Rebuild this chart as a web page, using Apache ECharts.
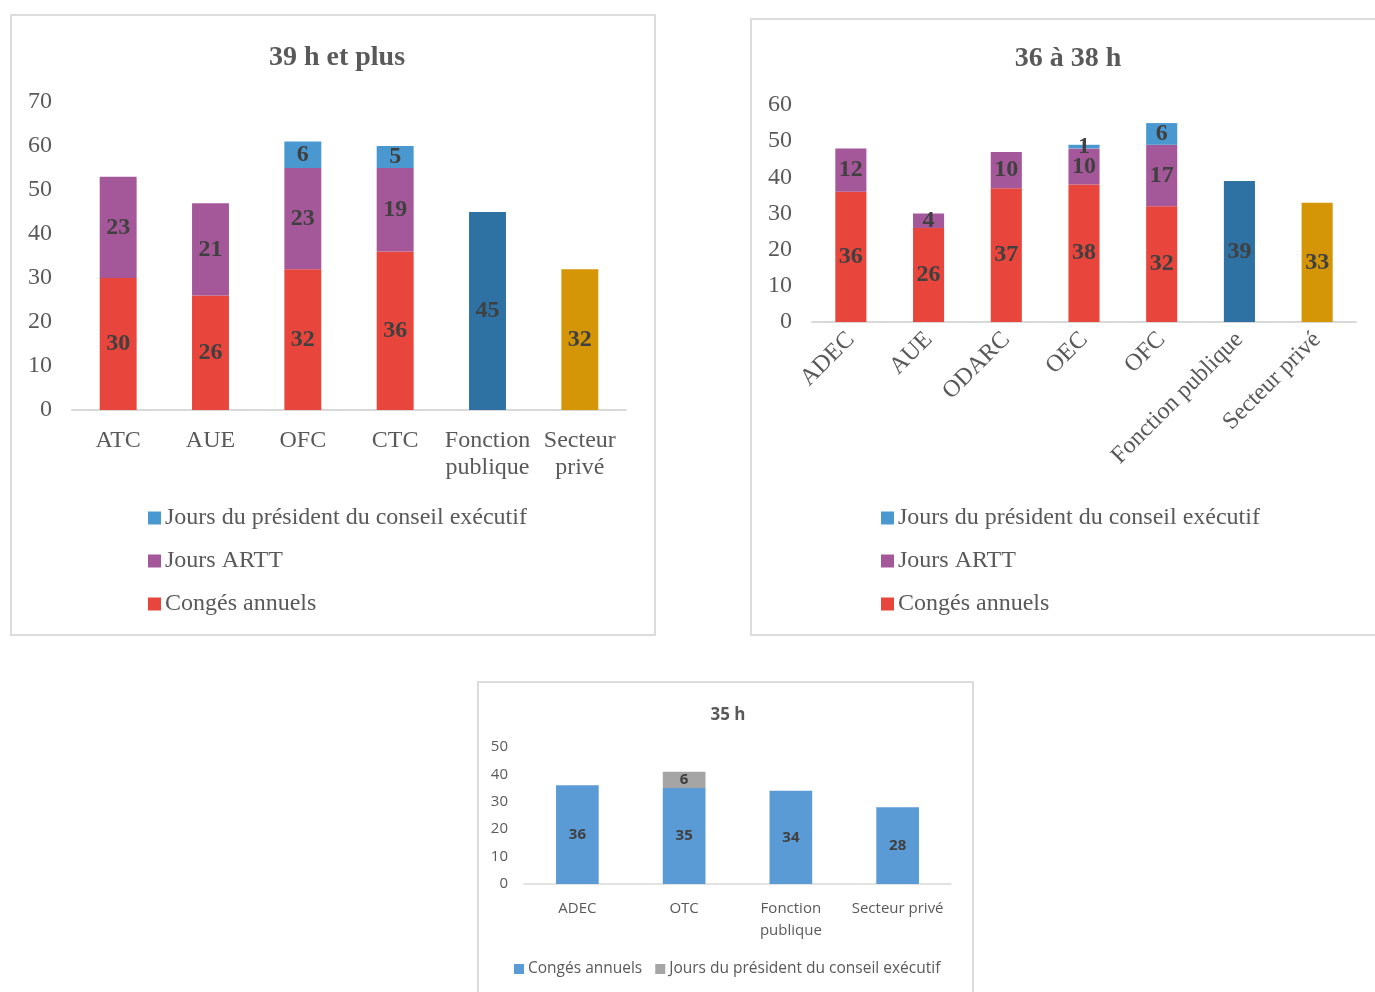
<!DOCTYPE html>
<html>
<head>
<meta charset="utf-8">
<script src="https://cdn.jsdelivr.net/npm/echarts@6/dist/echarts.min.js"></script>
<style>
body { margin: 0; background: #fff; width: 1375px; height: 992px; overflow: hidden; position: relative; }
.panel { position: absolute; border: 2px solid #dcdcdc; box-sizing: border-box; background: #fff; }
.panel div { width: 100%; height: 100%; }
</style>
</head>
<body>
<div class="panel" style="left:10px;top:14px;width:646px;height:622px;"><div id="c39"></div></div>
<div class="panel" style="left:750px;top:18px;width:640px;height:618px;"><div id="c36"></div></div>
<div class="panel" style="left:477px;top:681px;width:497px;height:330px;"><div id="c35"></div></div>
<script>
// 39 h et plus
const cat39 = ['ATC', 'AUE', 'OFC', 'CTC', 'Fonction publique', 'Secteur privé'];
const conges39 = [30, 26, 32, 36, 45, 32];
const artt39 = [23, 21, 23, 19, null, null];
const pres39 = [null, null, 6, 5, null, null];

// 36 à 38 h
const cat36 = ['ADEC', 'AUE', 'ODARC', 'OEC', 'OFC', 'Fonction publique', 'Secteur privé'];
const conges36 = [36, 26, 37, 38, 32, 39, 33];
const artt36 = [12, 4, 10, 10, 17, null, null];
const pres36 = [null, null, null, 1, 6, null, null];

// 35 h
const cat35 = ['ADEC', 'OTC', 'Fonction publique', 'Secteur privé'];
const conges35 = [36, 35, 34, 28];
const pres35 = [null, 6, null, null];

const serif = '"Liberation Serif", "Times New Roman", serif';
const sans = '"Open Sans", "Liberation Sans", sans-serif';
const RED = '#e8453c', PURPLE = '#a55899', BLUE = '#4a98d0';
const special = { 'Fonction publique': '#2e72a4', 'Secteur privé': '#d49506' };

function colored(values, cats) {
    return values.map((v, i) => special[cats[i]] ? { value: v, itemStyle: { color: special[cats[i]] } } : v);
}

function serifChart(id, title, cats, conges, artt, pres, g, yMax, xLabel, legendLeft, legendTop, titleX) {
    const chart = echarts.init(document.getElementById(id));
    const lbl = { show: true, position: 'inside', color: '#404040', fontFamily: serif, fontWeight: 'bold', fontSize: 24 };
    chart.setOption({
        animation: false,
        title: {
            text: title, left: titleX, top: g.titleTop, textAlign: 'center', padding: 0,
            textStyle: { fontFamily: serif, fontWeight: 'bold', fontSize: 28, color: '#595959' },
        },
        legend: {
            orient: 'vertical', left: legendLeft, top: legendTop, padding: 0,
            itemWidth: 13, itemHeight: 13, itemGap: 19, icon: 'rect',
            data: ['Jours du président du conseil exécutif', 'Jours ARTT', 'Congés annuels'],
            textStyle: { fontFamily: serif, fontSize: 24, color: '#595959', padding: [0, 0, 0, -1] },
        },
        grid: { left: g.left, top: g.top, width: g.width, height: g.height },
        xAxis: {
            type: 'category', data: cats,
            axisLine: { lineStyle: { color: '#d9d9d9', width: 2 } },
            axisTick: { show: false },
            axisLabel: xLabel,
        },
        yAxis: {
            type: 'value', min: 0, max: yMax, interval: 10,
            splitLine: { show: false },
            axisLabel: { fontFamily: serif, fontSize: 24, color: '#595959', margin: 20 },
        },
        series: [
            { name: 'Congés annuels', type: 'bar', stack: 't', barWidth: '40%', color: RED, data: colored(conges, cats), label: lbl },
            { name: 'Jours ARTT', type: 'bar', stack: 't', color: PURPLE, data: artt, label: lbl },
            { name: 'Jours du président du conseil exécutif', type: 'bar', stack: 't', color: BLUE, data: pres, label: lbl },
        ],
    });
}

serifChart('c39', '39 h et plus', cat39, conges39, artt39, pres39,
    { left: 60, top: 86, width: 554, height: 308, titleTop: 28 }, 70,
    { fontFamily: serif, fontSize: 24, color: '#595959', margin: 17, lineHeight: 27, interval: 0,
      formatter: v => v.replace(' ', '\n') },
    136, 490, 325);

serifChart('c36', '36 à 38 h', cat36, conges36, artt36, pres36,
    { left: 60, top: 85, width: 544, height: 217, titleTop: 25 }, 60,
    { fontFamily: serif, fontSize: 24, color: '#595959', margin: 14, rotate: 45, interval: 0 },
    129, 486, 316);

// 35 h
const chart35 = echarts.init(document.getElementById('c35'));
const lbl35 = { show: true, position: 'inside', color: '#404040', fontFamily: sans, fontWeight: 'bold', fontSize: 15 };
chart35.setOption({
    animation: false,
    title: {
        text: '35 h', left: 249, top: 24, textAlign: 'center', padding: 0,
        textStyle: { fontFamily: sans, fontWeight: 'bold', fontSize: 17, color: '#595959' },
    },
    legend: {
        left: 35, top: 278, padding: 0, itemWidth: 10, itemHeight: 10, itemGap: 13, icon: 'rect',
        data: ['Congés annuels', 'Jours du président du conseil exécutif'],
        textStyle: { fontFamily: sans, fontSize: 15.5, color: '#595959', padding: [0, 0, 0, -1] },
    },
    grid: { left: 45, top: 64, width: 427, height: 137 },
    xAxis: {
        type: 'category', data: cat35,
        axisLine: { lineStyle: { color: '#d9d9d9', width: 1.5 } },
        axisTick: { show: false },
        axisLabel: { fontFamily: sans, fontSize: 15, color: '#595959', margin: 14, lineHeight: 22, interval: 0,
            formatter: v => v === 'Fonction publique' ? 'Fonction\npublique' : v },
    },
    yAxis: {
        type: 'value', min: 0, max: 50, interval: 10,
        splitLine: { show: false },
        axisLabel: { fontFamily: sans, fontSize: 15, color: '#595959', margin: 16 },
    },
    series: [
        { name: 'Congés annuels', type: 'bar', stack: 't', barWidth: '40%', color: '#5b9bd5', data: conges35, label: lbl35 },
        { name: 'Jours du président du conseil exécutif', type: 'bar', stack: 't', color: '#a5a5a5', data: pres35, label: lbl35 },
    ],
});
</script>
</body>
</html>
